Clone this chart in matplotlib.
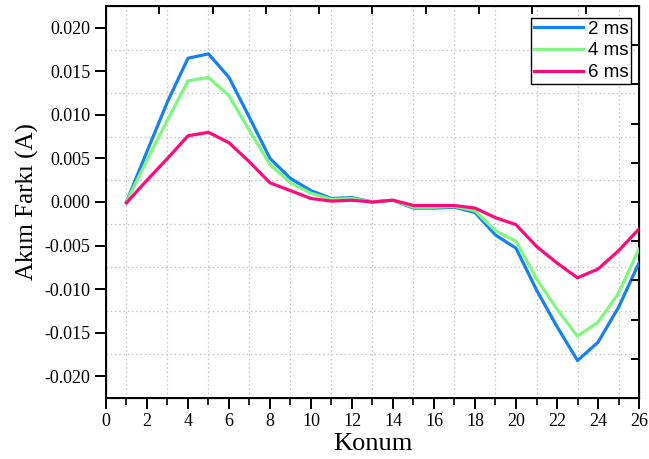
import matplotlib
matplotlib.use("Agg")
import matplotlib.pyplot as plt
import numpy as np

konum = list(range(1, 27))

ms2 = [0.0000, 0.0058, 0.0115, 0.0165, 0.0170, 0.0143, 0.0097, 0.0050, 0.0027, 0.0013,
       0.0004, 0.0005, 0.0000, 0.0002, -0.0007, -0.0007, -0.0006, -0.0012, -0.0038, -0.0053,
       -0.0101, -0.0143, -0.0182, -0.0161, -0.0121, -0.0070]
ms4 = [0.0000, 0.0048, 0.0094, 0.0139, 0.0143, 0.0122, 0.0082, 0.0043, 0.0022, 0.0010,
       0.0003, 0.0004, 0.0000, 0.0002, -0.0006, -0.0006, -0.0005, -0.0010, -0.0033, -0.0045,
       -0.0088, -0.0123, -0.0154, -0.0138, -0.0105, -0.0054]
ms6 = [-0.0001, 0.0025, 0.0050, 0.0076, 0.0080, 0.0068, 0.0046, 0.0022, 0.0013, 0.0004,
       0.0001, 0.0002, 0.0000, 0.0002, -0.0004, -0.0004, -0.0004, -0.0007, -0.0018, -0.0026,
       -0.0051, -0.0070, -0.0087, -0.0077, -0.0056, -0.0031]

labels = ["2 ms", "4 ms", "6 ms"]
colors = ["#1580F0", "#80F57F", "#FF0A7D"]

serif = ["Liberation Serif", "DejaVu Serif"]
sans = ["Liberation Sans", "DejaVu Sans"]

fig = plt.figure(figsize=(6.49, 4.59), dpi=100)
ax = fig.add_axes([0.1633, 0.1329, 0.8213, 0.8541])

lines = []
for ys, lab, c in zip([ms2, ms4, ms6], labels, colors):
    ln, = ax.plot(konum, ys, color=c, lw=2.3, label=lab, zorder=3)
    lines.append(ln)

ax.set_xlim(0, 26)
ax.set_ylim(-0.0225, 0.0225)
ax.set_xticks(np.arange(0, 27, 2))
ax.set_xticks(np.arange(1, 26, 2), minor=True)
ax.set_yticks(np.arange(-0.020, 0.0201, 0.005))
ax.set_yticks(np.arange(-0.0175, 0.018, 0.005), minor=True)
ax.set_yticklabels(["%.3f" % v for v in np.arange(-0.020, 0.0201, 0.005)])

ax.grid(which="minor", color="#c4c4c4", linestyle=(0, (1.2, 2.2)), lw=0.9)
ax.tick_params(which="major", direction="out", length=8, width=1.4, pad=3,
               labelsize=13, top=False, right=False)
ax.tick_params(axis="x", which="minor", direction="out", length=5, width=1.2)
ax.tick_params(axis="y", which="minor", length=0)
for lbl in ax.get_xticklabels() + ax.get_yticklabels():
    lbl.set_family(serif)
for s in ax.spines.values():
    s.set_linewidth(1.4)

# top and right axes, Origin style
axt = ax.twiny()
axt.set_xlim(0, 26)
axt.set_xticks(np.arange(0, 26.01, 5.2))
axt.set_xticks(np.arange(2.6, 26, 5.2), minor=True)
axt.tick_params(which="both", direction="in", length=6, width=1.4, labeltop=False)
axr = ax.twinx()
axr.set_ylim(-0.0225, 0.0225)
axr.set_yticks(np.linspace(-0.0225, 0.0225, 11))
axr.tick_params(direction="in", length=6, width=1.4, labelright=False)

ax.set_xlabel("Konum", family=serif, fontsize=19, labelpad=2)
ax.set_ylabel("Akım Farkı (A)", family=serif, fontsize=18, labelpad=4)

leg = axr.legend(lines, labels, loc="upper right", bbox_to_anchor=(0.985, 0.97),
                 fancybox=False, edgecolor="black",
                 prop={"family": sans, "size": 13.5}, handlelength=2.6,
                 borderaxespad=0.0, labelspacing=0.25, handletextpad=0.25,
                 borderpad=0.15, framealpha=1)
leg.get_frame().set_linewidth(1.0)

fig.savefig("out.png", dpi=100)
